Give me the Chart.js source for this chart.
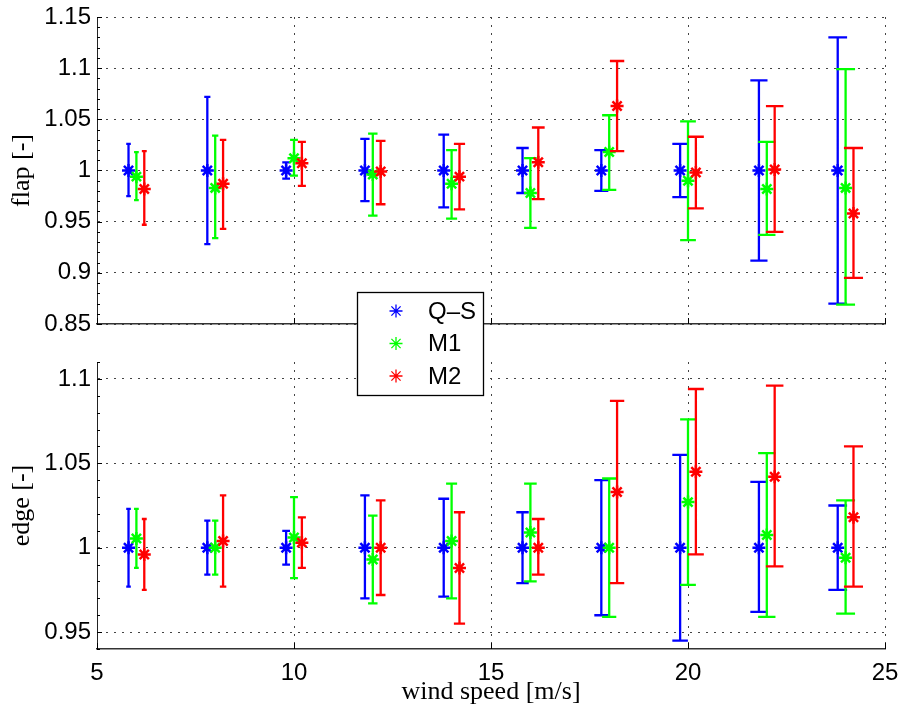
<!DOCTYPE html>
<html>
<head>
<meta charset="utf-8">
<script src="https://cdn.jsdelivr.net/npm/chart.js@4.4.0/dist/chart.umd.min.js"></script>
<style>
  html, body { margin: 0; padding: 0; background: #fff; }
  #wrap { position: relative; width: 900px; height: 713px; background: #fff; }
  #wrap canvas { position: absolute; left: 0; top: 0; }
</style>
</head>
<body>
<div id="wrap">
  <canvas id="edgeChart" width="900" height="713"></canvas>
  <canvas id="flapChart" width="900" height="713"></canvas>
</div>
<script>
// ---------------- data ----------------
const windSpeed = [6, 8, 10, 12, 14, 16, 18, 20, 22, 24];
const seriesLabels = ['Q–S', 'M1', 'M2'];

const windTicks = [5, 10, 15, 20, 25];
const windTickLabels = ['5', '10', '15', '20', '25'];
const flapTicks = [0.85, 0.9, 0.95, 1, 1.05, 1.1, 1.15];
const flapTickLabels = ['0.85', '0.9', '0.95', '1', '1.05', '1.1', '1.15'];
const edgeTicks = [0.95, 1, 1.05, 1.1];
const edgeTickLabels = ['0.95', '1', '1.05', '1.1'];

// flap
const qsFlapMean = [1, 1, 1, 1, 1, 1, 1, 1, 1, 1];
const qsFlapLow  = [0.975, 0.928, 0.992, 0.970, 0.964, 0.978, 0.980, 0.974, 0.912, 0.870];
const qsFlapHigh = [1.026, 1.072, 1.008, 1.031, 1.035, 1.022, 1.020, 1.026, 1.088, 1.130];
const m1FlapMean = [0.994, 0.983, 1.012, 0.996, 0.987, 0.978, 1.018, 0.990, 0.982, 0.983];
const m1FlapLow  = [0.971, 0.934, 0.995, 0.956, 0.953, 0.944, 0.981, 0.932, 0.937, 0.869];
const m1FlapHigh = [1.018, 1.034, 1.030, 1.036, 1.020, 1.012, 1.054, 1.048, 1.028, 1.099];
const m2FlapMean = [0.982, 0.987, 1.007, 0.999, 0.994, 1.008, 1.063, 0.998, 1.001, 0.958];
const m2FlapLow  = [0.947, 0.943, 0.985, 0.967, 0.962, 0.972, 1.019, 0.963, 0.940, 0.895];
const m2FlapHigh = [1.019, 1.030, 1.028, 1.029, 1.026, 1.042, 1.107, 1.033, 1.063, 1.022];

// edge
const qsEdgeMean = [1, 1, 1, 1, 1, 1, 1, 1, 1, 1];
const qsEdgeLow  = [0.977, 0.984, 0.990, 0.970, 0.971, 0.979, 0.960, 0.945, 0.962, 0.975];
const qsEdgeHigh = [1.023, 1.016, 1.010, 1.031, 1.029, 1.021, 1.040, 1.055, 1.039, 1.025];
const m1EdgeMean = [1.0055, 1.000, 1.006, 0.993, 1.004, 1.009, 1.000, 1.027, 1.0075, 0.994];
const m1EdgeLow  = [0.988, 0.984, 0.982, 0.967, 0.970, 0.980, 0.959, 0.978, 0.959, 0.961];
const m1EdgeHigh = [1.023, 1.016, 1.030, 1.019, 1.038, 1.038, 1.041, 1.076, 1.056, 1.028];
const m2EdgeMean = [0.996, 1.004, 1.003, 1.000, 0.988, 1.000, 1.033, 1.045, 1.042, 1.018];
const m2EdgeLow  = [0.975, 0.977, 0.988, 0.972, 0.955, 0.984, 0.979, 0.996, 0.989, 0.977];
const m2EdgeHigh = [1.017, 1.031, 1.018, 1.028, 1.021, 1.017, 1.087, 1.094, 1.096, 1.060];

// ---------------- style ----------------
const seriesColors = ['#0000ff', '#00ff00', '#ff0000'];
const seriesShift = [-0.2, 0, 0.2];
const SANS = "'Liberation Sans', Arial, Helvetica, sans-serif";
const SERIF = "'Liberation Serif', 'Times New Roman', serif";
const TICK_FONT = { family: SANS, size: 24 };
const TITLE_FONT = { family: SERIF, size: 26 };
const CAP_FRACTION = 0.01; // MATLAB tee = |x|/100

function buildDatasets(means, lows, highs) {
  return seriesLabels.map((label, s) => ({
    label: label,
    data: windSpeed.map((w, i) => ({ x: w + seriesShift[s], y: means[s][i] })),
    lower: lows[s],
    upper: highs[s],
    borderColor: seriesColors[s],
    backgroundColor: seriesColors[s],
    pointStyle: 'star',
    pointRadius: 6.5,
    pointHoverRadius: 6.5,
    pointBorderWidth: 2.5,
    showLine: false,
    order: 3 - s
  }));
}

const errorBarPlugin = {
  id: 'errorBars',
  beforeDatasetDraw(chart, args) {
    const ds = chart.data.datasets[args.index];
    const xs = chart.scales.x, ys = chart.scales.y;
    const ctx = chart.ctx;
    ctx.save();
    ctx.strokeStyle = ds.borderColor;
    ctx.lineWidth = 2.3;
    ctx.lineCap = 'butt';
    ctx.setLineDash([]);
    ctx.beginPath();
    ds.data.forEach((p, i) => {
      const px = xs.getPixelForValue(p.x);
      const yl = ys.getPixelForValue(ds.lower[i]);
      const yh = ys.getPixelForValue(ds.upper[i]);
      const xl = xs.getPixelForValue(p.x * (1 - CAP_FRACTION));
      const xr = xs.getPixelForValue(p.x * (1 + CAP_FRACTION));
      ctx.moveTo(px, yl); ctx.lineTo(px, yh);
      ctx.moveTo(xl, yl); ctx.lineTo(xr, yl);
      ctx.moveTo(xl, yh); ctx.lineTo(xr, yh);
    });
    ctx.stroke();
    ctx.restore();
  }
};

const inwardTickPlugin = {
  id: 'inwardTicks',
  beforeDatasetsDraw(chart) {
    const { ctx, chartArea: a } = chart;
    const xs = chart.scales.x, ys = chart.scales.y;
    ctx.save();
    ctx.strokeStyle = '#000';
    ctx.lineWidth = 1;
    ctx.setLineDash([]);
    ctx.beginPath();
    xs.ticks.forEach(t => {
      const px = Math.round(xs.getPixelForValue(t.value)) + 0.5;
      ctx.moveTo(px, a.bottom); ctx.lineTo(px, a.bottom - 6);
    });
    ys.ticks.forEach(t => {
      const py = Math.round(ys.getPixelForValue(t.value)) + 0.5;
      ctx.moveTo(a.left, py); ctx.lineTo(a.left + 5, py);
    });
    const k0 = Math.ceil(ys.min * 100 - 1e-9), k1 = Math.floor(ys.max * 100 + 1e-9);
    for (let k = k0; k <= k1; k++) {
      const py = Math.round(ys.getPixelForValue(k / 100)) + 0.5;
      ctx.moveTo(a.left, py); ctx.lineTo(a.left + 3, py);
    }
    ctx.stroke();
    ctx.restore();
  }
};

const boxLegendPlugin = {
  id: 'boxLegend',
  afterDraw(chart, args, opts) {
    if (!opts || !opts.show) return;
    const ctx = chart.ctx;
    const b = opts.box;
    ctx.save();
    ctx.setLineDash([]);
    ctx.fillStyle = '#fff';
    ctx.fillRect(b.left, b.top, b.width, b.height);
    ctx.strokeStyle = '#000';
    ctx.lineWidth = 1.3;
    ctx.strokeRect(b.left + 0.5, b.top + 0.5, b.width, b.height);
    chart.data.datasets.forEach((ds, i) => {
      const y = b.top + opts.firstRow + i * opts.rowGap;
      ctx.strokeStyle = ds.borderColor;
      ctx.fillStyle = ds.borderColor;
      Chart.helpers.drawPoint(ctx, { pointStyle: 'star', radius: 6.5, borderWidth: 1, rotation: 0 }, b.left + opts.markerX, y);
      ctx.fillStyle = '#000';
      ctx.font = `24px ${SANS}`;
      ctx.textAlign = 'left';
      ctx.textBaseline = 'middle';
      ctx.fillText(ds.label, b.left + opts.textX, y + 1);
    });
    ctx.restore();
  }
};

// tick marks are drawn inward by the plugin; the library's own outward tick
// marks are kept transparent so that they only space the labels from the axis
function gridOpts(gap) {
  return {
    display: true, color: '#444', lineWidth: 1,
    drawTicks: true, tickLength: gap, tickColor: 'rgba(0,0,0,0)'
  };
}

function makeChart(canvasId, cfg) {
  return new Chart(document.getElementById(canvasId), {
    type: 'scatter',
    data: { datasets: cfg.datasets },
    plugins: [errorBarPlugin, inwardTickPlugin, boxLegendPlugin],
    options: {
      responsive: false,
      devicePixelRatio: 1,
      animation: false,
      events: [],
      layout: { padding: { left: 0, right: 15, top: cfg.top, bottom: 0 } },
      plugins: {
        legend: { display: false },
        tooltip: { enabled: false },
        boxLegend: cfg.legend || { show: false }
      },
      scales: {
        x: {
          type: 'linear',
          min: 5, max: 25,
          afterBuildTicks: s => { s.ticks = windTicks.map(v => ({ value: v })); },
          ticks: {
            display: cfg.showX,
            font: TICK_FONT, color: '#000', padding: 1, maxRotation: 0,
            callback: (v, i) => windTickLabels[i]
          },
          grid: gridOpts(9),
          border: { display: true, color: '#333', width: 1.5, dash: [2, 6] },
          title: {
            display: cfg.showX,
            text: 'wind speed [m/s]',
            font: TITLE_FONT, color: '#000',
            padding: { top: 0, bottom: 5 }
          },
          afterFit: s => { s.height = 713 - cfg.bottom; }
        },
        y: {
          type: 'linear',
          min: cfg.yMin, max: cfg.yMax,
          afterBuildTicks: s => { s.ticks = cfg.yTicks.map(v => ({ value: v })); },
          ticks: {
            font: TICK_FONT, color: '#000', padding: 1,
            callback: (v, i) => cfg.yTickLabels[i]
          },
          grid: gridOpts(5),
          border: { display: true, color: '#222', width: 1, dash: [2, 6] },
          title: {
            display: true,
            text: cfg.yTitle,
            font: TITLE_FONT, color: '#000',
            padding: { top: 7, bottom: 0 }
          },
          afterFit: s => { s.width = 97; }
        }
      }
    }
  });
}

makeChart('edgeChart', {
  datasets: buildDatasets(
    [qsEdgeMean, m1EdgeMean, m2EdgeMean],
    [qsEdgeLow, m1EdgeLow, m2EdgeLow],
    [qsEdgeHigh, m1EdgeHigh, m2EdgeHigh]),
  top: 362, bottom: 649,
  yMin: 0.94, yMax: 1.11,
  yTicks: edgeTicks, yTickLabels: edgeTickLabels,
  yTitle: 'edge [-]',
  showX: true
});

makeChart('flapChart', {
  datasets: buildDatasets(
    [qsFlapMean, m1FlapMean, m2FlapMean],
    [qsFlapLow, m1FlapLow, m2FlapLow],
    [qsFlapHigh, m1FlapHigh, m2FlapHigh]),
  top: 17, bottom: 324,
  yMin: 0.85, yMax: 1.15,
  yTicks: flapTicks, yTickLabels: flapTickLabels,
  yTitle: 'flap [-]',
  showX: false,
  legend: {
    show: true,
    box: { left: 357, top: 292, width: 126, height: 103 },
    firstRow: 19, rowGap: 32.5, markerX: 39, textX: 71
  }
});
</script>
</body>
</html>
